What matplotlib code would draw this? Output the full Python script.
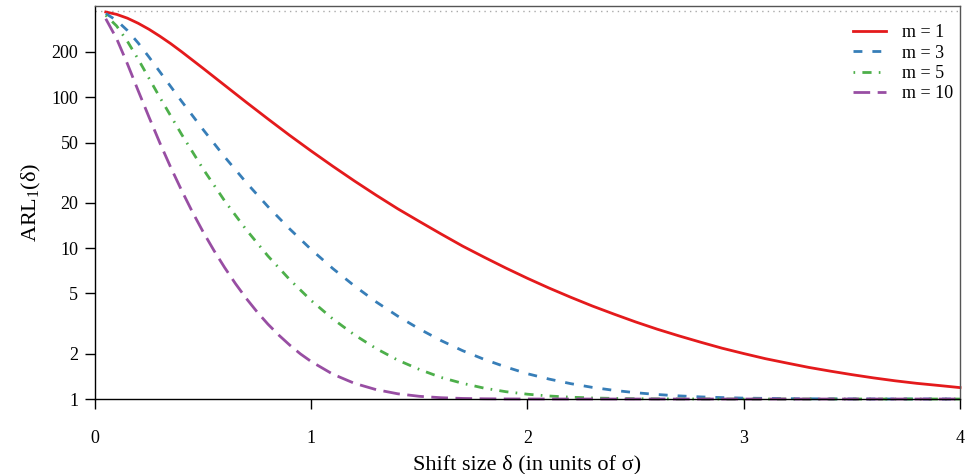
import matplotlib
matplotlib.use("Agg")
import matplotlib.pyplot as plt

plt.rcParams['font.family'] = ['Liberation Serif', 'DejaVu Serif']
plt.rcParams['mathtext.fontset'] = 'custom'
plt.rcParams['mathtext.rm'] = 'Liberation Serif'
plt.rcParams['mathtext.it'] = 'Liberation Serif:italic'

# === ARL curves ===
delta_m1 = [0.05, 0.1, 0.15, 0.2, 0.25, 0.3, 0.35, 0.4, 0.5, 0.6, 0.7, 0.8, 0.9, 1.0,
            1.1, 1.2, 1.3, 1.4, 1.5, 1.6, 1.7, 1.8, 1.9, 2.0,
            2.1, 2.2, 2.3, 2.4, 2.5, 2.6, 2.7, 2.8, 2.9, 3.0,
            3.1, 3.2, 3.3, 3.4, 3.5, 3.6, 3.7, 3.8, 3.9, 4.0]
arl_m1 = [366, 353, 333, 308, 281, 253, 226, 200, 155, 119.6, 92.3, 71.6, 55.8, 43.9,
          34.8, 27.8, 22.4, 18.2, 15.0, 12.4, 10.3, 8.69, 7.37, 6.30,
          5.43, 4.72, 4.13, 3.65, 3.24, 2.90, 2.62, 2.38, 2.17, 2.00,
          1.85, 1.73, 1.62, 1.53, 1.45, 1.38, 1.32, 1.27, 1.23, 1.19]

delta_m3 = [0.05, 0.1, 0.15, 0.2, 0.25, 0.3, 0.4, 0.5, 0.6, 0.7, 0.8, 0.9, 1.0,
            1.1, 1.2, 1.3, 1.4, 1.5, 1.6, 1.7, 1.8, 1.9, 2.0,
            2.1, 2.2, 2.3, 2.4, 2.5, 2.6, 2.7, 2.8, 2.9, 3.0,
            3.2, 3.4, 3.6, 3.8, 4.0]
arl_m3 = [357, 322, 276, 228, 184, 147, 94, 60.9, 40.1, 27.1, 18.8, 13.4, 9.77,
          7.31, 5.61, 4.40, 3.54, 2.91, 2.44, 2.09, 1.83, 1.63, 1.47,
          1.355, 1.264, 1.194, 1.141, 1.101, 1.071, 1.049, 1.033, 1.022, 1.014,
          1.0055, 1.0019, 1.0006, 1.0002, 1.0]

delta_m5 = [0.05, 0.1, 0.15, 0.2, 0.25, 0.3, 0.4, 0.5, 0.6, 0.7, 0.8, 0.9, 1.0,
            1.1, 1.2, 1.3, 1.4, 1.5, 1.6, 1.7, 1.8, 1.9, 2.0,
            2.1, 2.2, 2.3, 2.4, 2.5, 2.6, 2.8, 3.0, 4.0]
arl_m5 = [348, 296, 234, 178, 133, 99.5, 56.8, 33.4, 20.5, 13.2, 8.85, 6.19, 4.49,
          3.39, 2.66, 2.16, 1.81, 1.57, 1.39, 1.27, 1.18, 1.118, 1.076,
          1.047, 1.028, 1.016, 1.009, 1.0048, 1.0025, 1.0006, 1.0001, 1.0]

delta_m10 = [0.05, 0.1, 0.15, 0.2, 0.25, 0.3, 0.35, 0.4, 0.45, 0.5,
             0.55, 0.6, 0.65, 0.7, 0.75, 0.8, 0.85, 0.9, 0.95, 1.0,
             1.1, 1.2, 1.3, 1.4, 1.5, 1.6, 1.7, 1.8, 1.9, 2.0, 2.2, 4.0]
arl_m10 = [330, 244, 166, 110, 73.6, 49.7, 34.3, 24.2, 17.4, 12.8,
           9.64, 7.41, 5.80, 4.63, 3.77, 3.13, 2.65, 2.28, 1.99, 1.77,
           1.46, 1.27, 1.154, 1.083, 1.042, 1.020, 1.0088, 1.0036, 1.0013, 1.0004, 1.0, 1.0]

arl0 = 370.4
y_ticks = [1, 2, 5, 10, 20, 50, 100, 200]
x_ticks = [0, 1, 2, 3, 4]

series = [
    (delta_m1, arl_m1, 'm = 1', '#E41A1C', None),
    (delta_m3, arl_m3, 'm = 3', '#377EB8', (3.2, 3.6)),
    (delta_m5, arl_m5, 'm = 5', '#4DAF4A', (0.6, 2.6, 3.3, 2.6)),
    (delta_m10, arl_m10, 'm = 10', '#984EA3', (6, 2.7)),
]

# === Plot ===
fig = plt.figure(figsize=(9.67, 4.74), dpi=100)
ax = fig.add_axes([0.0982, 0.1582, 0.8946, 0.8288])

ax.axhline(arl0, color='#aaaaaa', linestyle=(0, (1, 3)), linewidth=1)

for d, a, lab, col, dash in series:
    line, = ax.plot(d, a, color=col, linewidth=2, label=lab, clip_on=False)
    if dash is not None:
        line.set_dashes(dash)

ax.set_yscale('log')
ax.set_xlim(0, 4)
ax.set_ylim(1, 400)
ax.set_yticks(y_ticks)
ax.set_yticklabels([str(t) for t in y_ticks])
ax.yaxis.set_minor_locator(matplotlib.ticker.NullLocator())
ax.set_xticks(x_ticks)
ax.set_xticklabels([str(t) for t in x_ticks])

ax.tick_params(axis='both', direction='out', length=7, width=1, labelsize=13)
ax.tick_params(axis='x', pad=15)
ax.tick_params(axis='y', pad=5)

for s in ax.spines.values():
    s.set_linewidth(1)
ax.spines['top'].set_color('#555555')
ax.spines['right'].set_color('#555555')

ax.set_xlabel('Shift size δ (in units of σ)', fontsize=16, labelpad=6)
ax.set_ylabel('ARL$_1$(δ)', fontsize=16, labelpad=6)

ax.legend(loc='upper right', bbox_to_anchor=(1.011, 0.995), frameon=False,
          fontsize=13, handlelength=1.8, handletextpad=0.9, labelspacing=0.18)

plt.savefig('out.png', dpi=100)
